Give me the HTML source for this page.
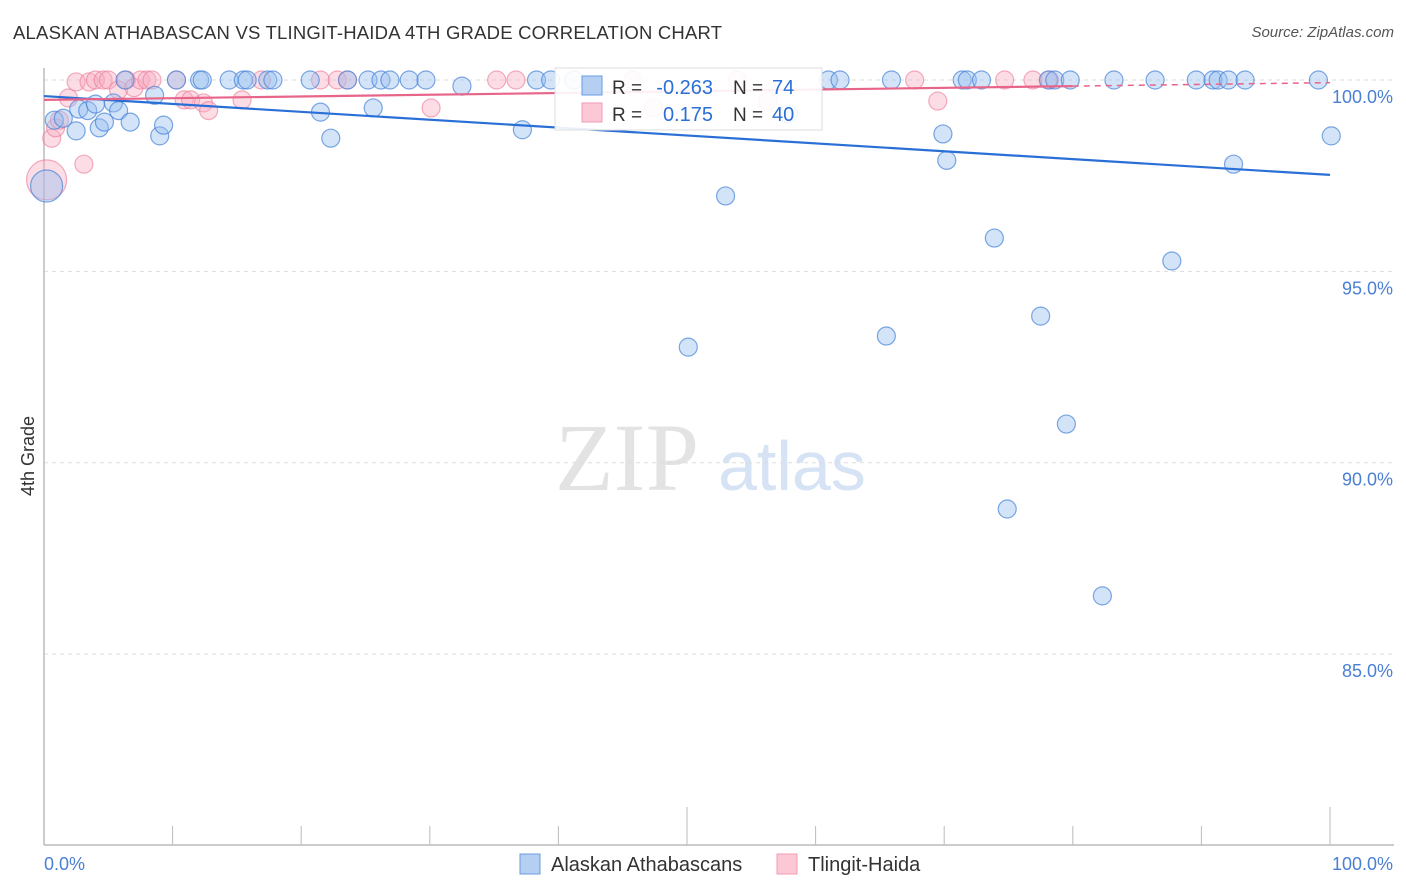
<!DOCTYPE html>
<html><head><meta charset="utf-8">
<style>
body{margin:0;background:#fff;font-family:"Liberation Sans",sans-serif;}
#wrap{position:relative;width:1406px;height:892px;overflow:hidden;}
.title{position:absolute;left:13px;top:22px;font-size:18.5px;color:#333;letter-spacing:0.2px;}
.source{position:absolute;right:12px;top:24px;font-size:15px;color:#555;font-style:italic;}
</style></head>
<body>
<div id="wrap">
<div class="title">ALASKAN ATHABASCAN VS TLINGIT-HAIDA 4TH GRADE CORRELATION CHART</div>
<div class="source">Source: ZipAtlas.com</div>
<svg id="svg" width="1406" height="892" style="position:absolute;left:0;top:0"></svg>
</div>
<script>
const blueX=[0.8,1.5,2.5,2.7,3.4,4.0,4.3,4.7,5.4,5.8,6.3,6.7,8.6,9.0,9.3,10.3,12.1,12.3,14.4,15.5,15.8,17.4,17.8,20.7,21.5,22.3,23.6,25.2,25.6,26.2,26.9,28.4,29.7,32.5,37.2,38.3,39.4,41.2,53.0,50.1,57.9,61.0,61.9,65.9,69.9,70.2,71.4,71.8,72.9,73.9,74.9,77.5,78.1,78.6,79.5,79.8,82.3,83.2,86.4,87.7,89.6,90.9,91.3,92.1,92.5,93.4,99.1,100.1,65.5,0.2];
const blueY=[98.95,99.0,98.67,99.24,99.2,99.37,98.75,98.9,99.4,99.2,100,98.9,99.6,98.54,98.82,100,100,100,100,100,100,100,100,100,99.16,98.48,100,100,99.27,100,100,100,100,99.84,98.7,100,100,100,96.97,93.02,99.11,100,100,100,98.59,97.9,100,100,100,95.87,88.79,93.83,100,100,91.01,100,86.52,100,100,95.27,100,100,100,100,97.8,100,100,98.54,93.31,97.23];
const blueR=[9,9,9,9,9,9,9,9,9,9,9,9,9,9,9,9,9,9,9,9,9,9,9,9,9,9,9,9,9,9,9,9,9,9,9,9,9,9,9,9,9,9,9,9,9,9,9,9,9,9,9,9,9,9,9,9,9,9,9,9,9,9,9,9,9,9,9,9,9,16];
const pinkX=[0.6,0.9,1.2,1.9,2.5,3.1,3.5,4.0,4.6,5.0,5.8,6.4,7.0,7.5,8.0,8.4,10.3,10.9,11.4,12.4,12.8,15.4,16.9,21.5,22.8,23.6,30.1,35.2,36.7,45.8,47.4,53.9,56.3,67.7,69.5,76.9,78.2,74.7,0.2];
const pinkY=[98.48,98.75,98.95,99.53,99.95,97.8,99.95,100,100,100,99.74,100,99.8,100,100,100,100,99.48,99.48,99.4,99.2,99.48,100,100,100,100,99.27,100,100,100,99.27,100,99.45,100,99.45,100,100,100,97.39];
const pinkR=[9,9,9,9,9,9,9,9,9,9,9,9,9,9,9,9,9,9,9,9,9,9,9,9,9,9,9,9,9,9,9,9,9,9,9,9,9,9,20];
const blueLineX=[0,100];
const blueLineY=[99.58,97.52];
const pinkLineX=[0,80,100];
const pinkLineY=[99.48,99.84,99.93];
const yTicks=[100,95,90,85];
const yTickLabels=["100.0%","95.0%","90.0%","85.0%"];

const X0=44,X1=1330,YTOP=80,PXPER=38.27;
const sx=v=>X0+(X1-X0)*v/100;
const sy=v=>YTOP+(100-v)*PXPER;
const svg=document.getElementById('svg');
const NS='http://www.w3.org/2000/svg';
function mk(tag,attrs,parent){const e=document.createElementNS(NS,tag);for(const k in attrs)e.setAttribute(k,attrs[k]);(parent||svg).appendChild(e);return e;}

let t=mk('text',{x:555,y:490,'font-family':'Liberation Serif,serif','font-size':96,fill:'#e3e3e3'});t.textContent='ZIP';


t=mk('text',{x:718,y:490,'font-family':'Liberation Sans,sans-serif','font-size':70,fill:'#d5e3f5'});t.textContent='atlas';



yTicks.forEach((v,i)=>{
  const g=mk('line',{x1:X0,x2:1394,y1:sy(v),y2:sy(v),stroke:'#ddd','stroke-dasharray':'4,4'});
  
  
  const l=mk('text',{x:1393,y:sy(v)+23,'text-anchor':'end','font-size':18,fill:'#4a7fd4'});
  l.textContent=yTickLabels[i];
  
  
});
let a=mk('line',{x1:X0,x2:X0,y1:68,y2:845,stroke:'#bbb','stroke-width':1.5});


a=mk('line',{x1:X0,x2:1394,y1:845,y2:845,stroke:'#bbb','stroke-width':1.5});


for(let i=0;i<=10;i++){
  const x=sx(i*10);
  const tk=mk('line',{x1:x,x2:x,y1:(i==5||i==10)?807:826,y2:845,stroke:'#bbb'});
  
  
}
t=mk('text',{x:44,y:870,'font-size':18,fill:'#4a7fd4'});t.textContent='0.0%';


t=mk('text',{x:1393,y:870,'text-anchor':'end','font-size':18,fill:'#4a7fd4'});t.textContent='100.0%';


t=mk('text',{x:34,y:456,'font-size':18,fill:'#333','text-anchor':'middle',transform:'rotate(-90 34 456)'});t.textContent='4th Grade';



pinkX.forEach((v,i)=>{
  const c=mk('circle',{cx:sx(v),cy:sy(pinkY[i]),r:pinkR[i],fill:'rgba(248,170,192,0.4)',stroke:'rgba(235,120,150,0.6)','stroke-width':1.2});
  
  
});
blueX.forEach((v,i)=>{
  const c=mk('circle',{cx:sx(v),cy:sy(blueY[i]),r:blueR[i],fill:'rgba(150,190,240,0.42)',stroke:'rgba(70,130,215,0.7)','stroke-width':1.2});
  
  
});
let ln=mk('line',{x1:sx(blueLineX[0]),y1:sy(blueLineY[0]),x2:sx(blueLineX[1]),y2:sy(blueLineY[1]),stroke:'#2a6fd6','stroke-width':2.2});


ln=mk('line',{x1:sx(pinkLineX[0]),y1:sy(pinkLineY[0]),x2:sx(pinkLineX[1]),y2:sy(pinkLineY[1]),stroke:'#e8658a','stroke-width':2.2});


ln=mk('line',{x1:sx(pinkLineX[1]),y1:sy(pinkLineY[1]),x2:sx(pinkLineX[2]),y2:sy(pinkLineY[2]),stroke:'#e8658a','stroke-width':1.5,'stroke-dasharray':'6,5'});



const lg=mk('g',{});


mk('rect',{x:555,y:68,width:267,height:62,fill:'rgba(255,255,255,0.9)',stroke:'#ddd'},lg);
mk('rect',{x:582,y:76,width:20,height:19,fill:'#b5cff3',stroke:'#6a9be0'},lg);
mk('rect',{x:582,y:103,width:20,height:19,fill:'#fcc8d6',stroke:'#f09ab2'},lg);
const rows=[["R = ","-0.263","74",94],["R = ","0.175","40",121]];
rows.forEach((r,i)=>{
  let e=mk('text',{x:612,y:r[3],'font-size':19,fill:'#333'},lg);e.textContent=r[0];
  e=mk('text',{x:713,y:r[3],'font-size':20,fill:'#2a6fd6','text-anchor':'end'},lg);e.textContent=r[1];
  
  
  e=mk('text',{x:733,y:r[3],'font-size':19,fill:'#333'},lg);e.textContent='N = ';
  e=mk('text',{x:772,y:r[3],'font-size':20,fill:'#2a6fd6'},lg);e.textContent=r[2];
  
  
});

const bl=mk('g',{});


mk('rect',{x:520,y:854,width:20,height:20,fill:'#b5cff3',stroke:'#6a9be0'},bl);
t=mk('text',{x:551,y:871,'font-size':20,fill:'#333'},bl);t.textContent='Alaskan Athabascans';


mk('rect',{x:777,y:854,width:20,height:20,fill:'#fcc8d6',stroke:'#f09ab2'},bl);
t=mk('text',{x:808,y:871,'font-size':20,fill:'#333'},bl);t.textContent='Tlingit-Haida';


</script>
</body></html>
